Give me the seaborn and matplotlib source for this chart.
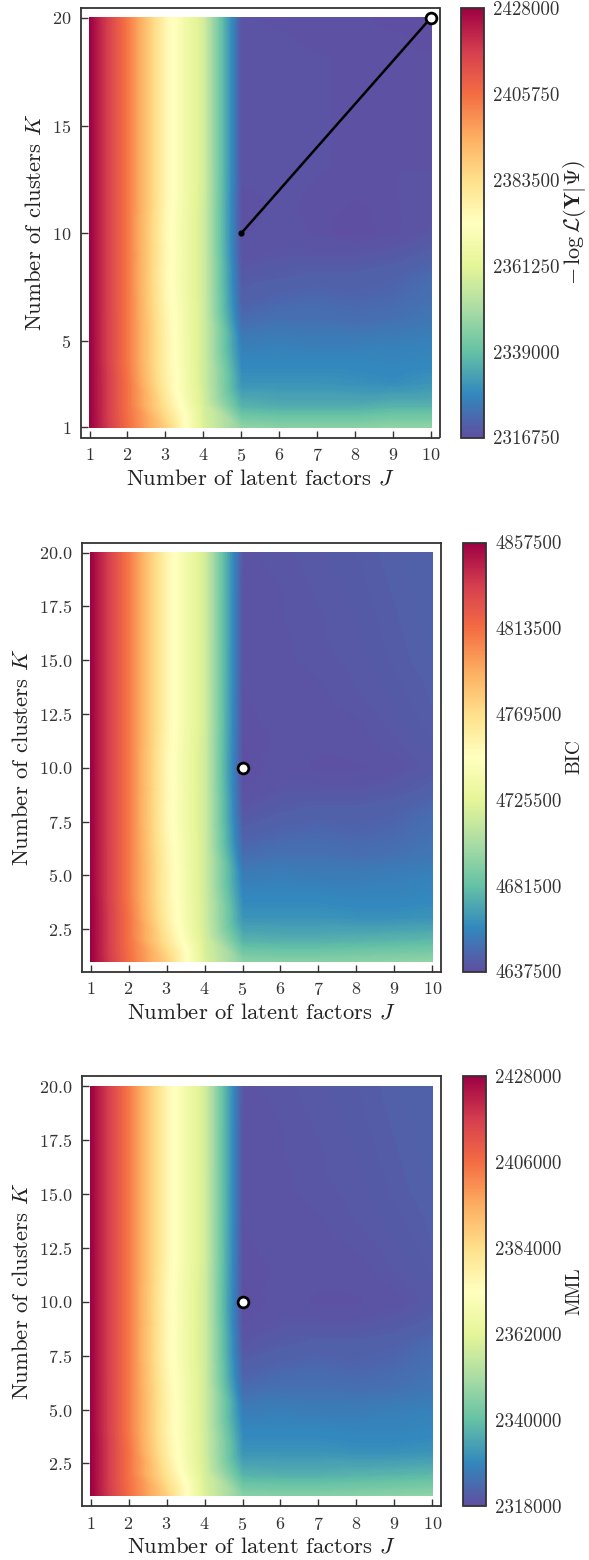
import numpy as np
import pandas as pd
import matplotlib
matplotlib.use("Agg")
import matplotlib.pyplot as plt
import matplotlib.colors as mcolors
import matplotlib.cm as mcm
import seaborn as sns

# ---------------- data ----------------
J_VALUES = [1, 2, 3, 4, 5, 6, 7, 8, 9, 10]
K_VALUES = list(range(1, 21))

# rows: K = 1..20, columns: J = 1..10
NEG_LOGLIK = [
    [2428000, 2405750, 2386840, 2359030, 2345680, 2344560, 2344560, 2344560, 2345680, 2345680],
    [2427890, 2404640, 2381280, 2357910, 2335660, 2334550, 2334550, 2334550, 2335660, 2335660],
    [2427890, 2404640, 2377940, 2356800, 2330100, 2330100, 2330100, 2329540, 2328990, 2330100],
    [2427780, 2403530, 2376830, 2356800, 2327880, 2327880, 2327880, 2327880, 2327320, 2327880],
    [2427780, 2403530, 2376830, 2356800, 2325650, 2326210, 2325650, 2325650, 2326210, 2326760],
    [2427780, 2403530, 2376270, 2356800, 2322310, 2323430, 2323430, 2322870, 2323430, 2324540],
    [2427670, 2403530, 2375160, 2356800, 2320090, 2321200, 2321760, 2321200, 2321760, 2323430],
    [2427670, 2403530, 2374600, 2356800, 2318980, 2319530, 2320090, 2320090, 2320640, 2322310],
    [2427670, 2403530, 2375160, 2356800, 2317860, 2318420, 2318420, 2318420, 2318980, 2320090],
    [2427670, 2403530, 2374600, 2356800, 2317310, 2317860, 2317310, 2316750, 2317310, 2318420],
    [2427670, 2403530, 2375160, 2356800, 2317200, 2317640, 2317310, 2316970, 2317310, 2318090],
    [2427670, 2403530, 2375710, 2357360, 2317420, 2317640, 2317420, 2317200, 2317420, 2317860],
    [2427670, 2403530, 2375710, 2357360, 2317640, 2317640, 2317530, 2317420, 2317420, 2317420],
    [2427670, 2403530, 2375710, 2357360, 2317640, 2317640, 2317530, 2317420, 2317420, 2317420],
    [2427670, 2403530, 2375710, 2357360, 2317640, 2317640, 2317530, 2317420, 2317420, 2317420],
    [2427670, 2403530, 2375710, 2357360, 2317640, 2317640, 2317530, 2317420, 2317420, 2317420],
    [2427670, 2403530, 2375710, 2357360, 2317640, 2317640, 2317530, 2317420, 2317420, 2317310],
    [2427670, 2403530, 2375710, 2357360, 2317640, 2317640, 2317530, 2317420, 2317310, 2317200],
    [2427670, 2403530, 2375710, 2357360, 2317640, 2317530, 2317420, 2317310, 2317200, 2316970],
    [2427670, 2403530, 2375710, 2357360, 2317530, 2317420, 2317310, 2317200, 2316970, 2316750],
]

BIC = [
    [4857500, 4813500, 4776100, 4721100, 4692500, 4691400, 4691400, 4692500, 4693600, 4694700],
    [4857280, 4811300, 4765100, 4718900, 4674900, 4673800, 4673800, 4674900, 4676000, 4677100],
    [4857280, 4811300, 4758500, 4716700, 4663900, 4663900, 4663900, 4662800, 4662800, 4663900],
    [4857060, 4809100, 4756300, 4716700, 4659500, 4659500, 4659500, 4658400, 4658400, 4659500],
    [4857060, 4809100, 4756300, 4716700, 4655100, 4656200, 4655100, 4655100, 4656200, 4657300],
    [4857060, 4809100, 4755200, 4716700, 4648500, 4650700, 4650700, 4649600, 4650700, 4652900],
    [4856840, 4809100, 4753000, 4716700, 4644100, 4646300, 4647400, 4646300, 4647400, 4650700],
    [4856840, 4809100, 4751900, 4716700, 4640800, 4643000, 4644100, 4644100, 4645200, 4648500],
    [4856840, 4809100, 4753000, 4716700, 4638600, 4640800, 4640800, 4640800, 4641900, 4644100],
    [4856840, 4809100, 4751900, 4716700, 4637500, 4639700, 4638600, 4638600, 4639700, 4641900],
    [4856840, 4809100, 4753000, 4716700, 4638160, 4639260, 4639260, 4639700, 4640800, 4642340],
    [4856840, 4809100, 4754100, 4717800, 4638600, 4639260, 4639700, 4640140, 4641460, 4643000],
    [4856840, 4809100, 4754100, 4717800, 4638820, 4639700, 4640140, 4640800, 4641900, 4643440],
    [4856840, 4809100, 4754100, 4717800, 4639040, 4639700, 4640360, 4641240, 4642340, 4643660],
    [4856840, 4809100, 4754100, 4717800, 4639260, 4640140, 4640800, 4641460, 4642780, 4644100],
    [4856840, 4809100, 4754100, 4717800, 4639480, 4640140, 4641020, 4641680, 4643000, 4644320],
    [4856840, 4809100, 4754100, 4717800, 4639700, 4640360, 4641020, 4641900, 4643220, 4644540],
    [4856840, 4809100, 4754100, 4717800, 4639700, 4640360, 4641240, 4642120, 4643440, 4644760],
    [4856840, 4809100, 4754100, 4717800, 4639920, 4640580, 4641460, 4642340, 4643660, 4644980],
    [4856840, 4809100, 4754100, 4717800, 4640140, 4640800, 4641680, 4642560, 4643880, 4645200],
]

MML = [
    [2428000, 2406000, 2387300, 2359800, 2345500, 2344950, 2344950, 2345500, 2346050, 2346600],
    [2427890, 2404900, 2381800, 2358700, 2336700, 2336150, 2336150, 2336700, 2337250, 2337800],
    [2427890, 2404900, 2378500, 2357600, 2331200, 2331200, 2331200, 2330650, 2330650, 2331200],
    [2427780, 2403800, 2377400, 2357600, 2329000, 2329000, 2329000, 2328450, 2328450, 2329000],
    [2427780, 2403800, 2377400, 2357600, 2326800, 2327350, 2326800, 2326800, 2327350, 2327900],
    [2427780, 2403800, 2376850, 2357600, 2323500, 2324600, 2324600, 2324050, 2324600, 2325700],
    [2427670, 2403800, 2375750, 2357600, 2321300, 2322400, 2322950, 2322400, 2322950, 2324600],
    [2427670, 2403800, 2375200, 2357600, 2319650, 2320750, 2321300, 2321300, 2321850, 2323500],
    [2427670, 2403800, 2375750, 2357600, 2318550, 2319650, 2319650, 2319650, 2320200, 2321300],
    [2427670, 2403800, 2375200, 2357600, 2318000, 2319100, 2318550, 2318550, 2319100, 2320200],
    [2427670, 2403800, 2375750, 2357600, 2318330, 2318880, 2318880, 2319100, 2319650, 2320420],
    [2427670, 2403800, 2376300, 2358150, 2318550, 2318880, 2319100, 2319320, 2319980, 2320750],
    [2427670, 2403800, 2376300, 2358150, 2318660, 2319100, 2319320, 2319650, 2320200, 2320970],
    [2427670, 2403800, 2376300, 2358150, 2318770, 2319100, 2319430, 2319870, 2320420, 2321080],
    [2427670, 2403800, 2376300, 2358150, 2318880, 2319320, 2319650, 2319980, 2320640, 2321300],
    [2427670, 2403800, 2376300, 2358150, 2318990, 2319320, 2319760, 2320090, 2320750, 2321410],
    [2427670, 2403800, 2376300, 2358150, 2319100, 2319430, 2319760, 2320200, 2320860, 2321520],
    [2427670, 2403800, 2376300, 2358150, 2319100, 2319430, 2319870, 2320310, 2320970, 2321630],
    [2427670, 2403800, 2376300, 2358150, 2319210, 2319540, 2319980, 2320420, 2321080, 2321740],
    [2427670, 2403800, 2376300, 2358150, 2319320, 2319650, 2320090, 2320530, 2321190, 2321850],
]

NEG_LOGLIK_TICKS = [2316750, 2339000, 2361250, 2383500, 2405750, 2428000]
BIC_TICKS = [4637500, 4681500, 4725500, 4769500, 4813500, 4857500]
MML_TICKS = [2318000, 2340000, 2362000, 2384000, 2406000, 2428000]

PATH_J = [5, 10]        # line in the first panel
PATH_K = [10, 20]
BEST_J = [5]            # selected model (BIC / MML)
BEST_K = [10]

# ---------------- style ----------------
sns.set_style("ticks")
plt.rcParams.update({
    "font.family": ["cmr10"],
    "mathtext.fontset": "cm",
    "axes.formatter.use_mathtext": True,
    "axes.edgecolor": "#333333",
    "axes.linewidth": 1.3,
    "xtick.direction": "in",
    "ytick.direction": "in",
    "xtick.color": "#333333",
    "ytick.color": "#333333",
    "xtick.major.size": 5,
    "ytick.major.size": 5,
    "xtick.major.width": 1.0,
    "ytick.major.width": 1.0,
    "text.color": "#222222",
    "axes.labelcolor": "#222222",
})
cmap = sns.color_palette("Spectral_r", as_cmap=True)

W, H = 589, 1560
fig = plt.figure(figsize=(W / 100, H / 100), dpi=100)


def px_axes(x0, y0, x1, y1):
    return fig.add_axes([x0 / W, 1 - y1 / H, (x1 - x0) / W, (y1 - y0) / H])


panels = [
    dict(data=NEG_LOGLIK, ticks=NEG_LOGLIK_TICKS,
         label=r"$-\,\log\mathcal{L}(\mathbf{Y}|\mathbf{\Psi})$", label_fs=16, label_pad=1,
         ax=(81, 7.5, 439.5, 437.5), cax=(461, 8, 484, 437.5), yticks=[1, 5, 10, 15, 20]),
    dict(data=BIC, ticks=BIC_TICKS, label="BIC", label_fs=14, label_pad=3,
         ax=(82, 542.5, 441, 971.5), cax=(463, 542.5, 486, 971.5), yticks=None),
    dict(data=MML, ticks=MML_TICKS, label="MML", label_fs=14, label_pad=3,
         ax=(82, 1076, 441, 1506), cax=(463, 1076, 486, 1506), yticks=None),
]

tick_fs = 13
cbar_tick_fs = 13.6
label_fs = 16.3

JJ, KK = np.meshgrid(J_VALUES, K_VALUES)

for i, p in enumerate(panels):
    ax = px_axes(*p["ax"])
    cax = px_axes(*p["cax"])
    Z = np.array(p["data"], dtype=float)
    vmin, vmax = p["ticks"][0], p["ticks"][-1]
    norm = mcolors.Normalize(vmin=vmin, vmax=vmax)
    levels = np.linspace(vmin, vmax, 301)
    cs = ax.tricontourf(JJ.ravel(), KK.ravel(), Z.ravel(), levels=levels,
                        cmap=cmap, norm=norm, extend="both", antialiased=False)
    cs.set_edgecolor("face")
    cs.set_linewidth(0.25)

    if i == 0:
        path = pd.DataFrame({"J": PATH_J, "K": PATH_K})
        sns.lineplot(data=path, x="J", y="K", ax=ax, color="black", lw=1.8,
                     zorder=4, legend=False)
        sns.scatterplot(x=PATH_J[:1], y=PATH_K[:1], ax=ax, color="black", s=20,
                        edgecolor="black", linewidth=0, zorder=5, legend=False)
        sns.scatterplot(x=PATH_J[1:], y=PATH_K[1:], ax=ax, color="white", s=60,
                        edgecolor="black", linewidth=2.0, zorder=6, legend=False,
                        clip_on=False)
    else:
        sns.scatterplot(x=BEST_J, y=BEST_K, ax=ax, color="white", s=60,
                        edgecolor="black", linewidth=2.0, zorder=6, legend=False)

    jr = max(J_VALUES) - min(J_VALUES)
    kr = max(K_VALUES) - min(K_VALUES)
    ax.set_xlim(min(J_VALUES) - 0.025 * jr, max(J_VALUES) + 0.025 * jr)
    ax.set_ylim(min(K_VALUES) - 0.025 * kr, max(K_VALUES) + 0.025 * kr)
    ax.set_xticks(J_VALUES)
    if p["yticks"] is not None:
        ax.set_yticks(p["yticks"])
    ax.tick_params(axis="x", labelsize=tick_fs, pad=7)
    ax.tick_params(axis="y", labelsize=tick_fs, pad=7)
    ax.set_xlabel(r"Number of latent factors $J$", fontsize=label_fs, labelpad=3)
    ax.set_ylabel(r"Number of clusters $K$", fontsize=label_fs, labelpad=5)
    for s in ax.spines.values():
        s.set_visible(True)

    sm = mcm.ScalarMappable(norm=norm, cmap=cmap)
    cb = fig.colorbar(sm, cax=cax)
    cb.set_ticks(p["ticks"])
    cb.set_ticklabels([str(t) for t in p["ticks"]])
    cb.ax.tick_params(length=0, labelsize=cbar_tick_fs, pad=6.5)
    cb.outline.set_edgecolor("#333333")
    cb.outline.set_linewidth(1.3)
    cb.set_label(p["label"], fontsize=p["label_fs"], labelpad=p["label_pad"])

fig.savefig("out.png", dpi=100)
